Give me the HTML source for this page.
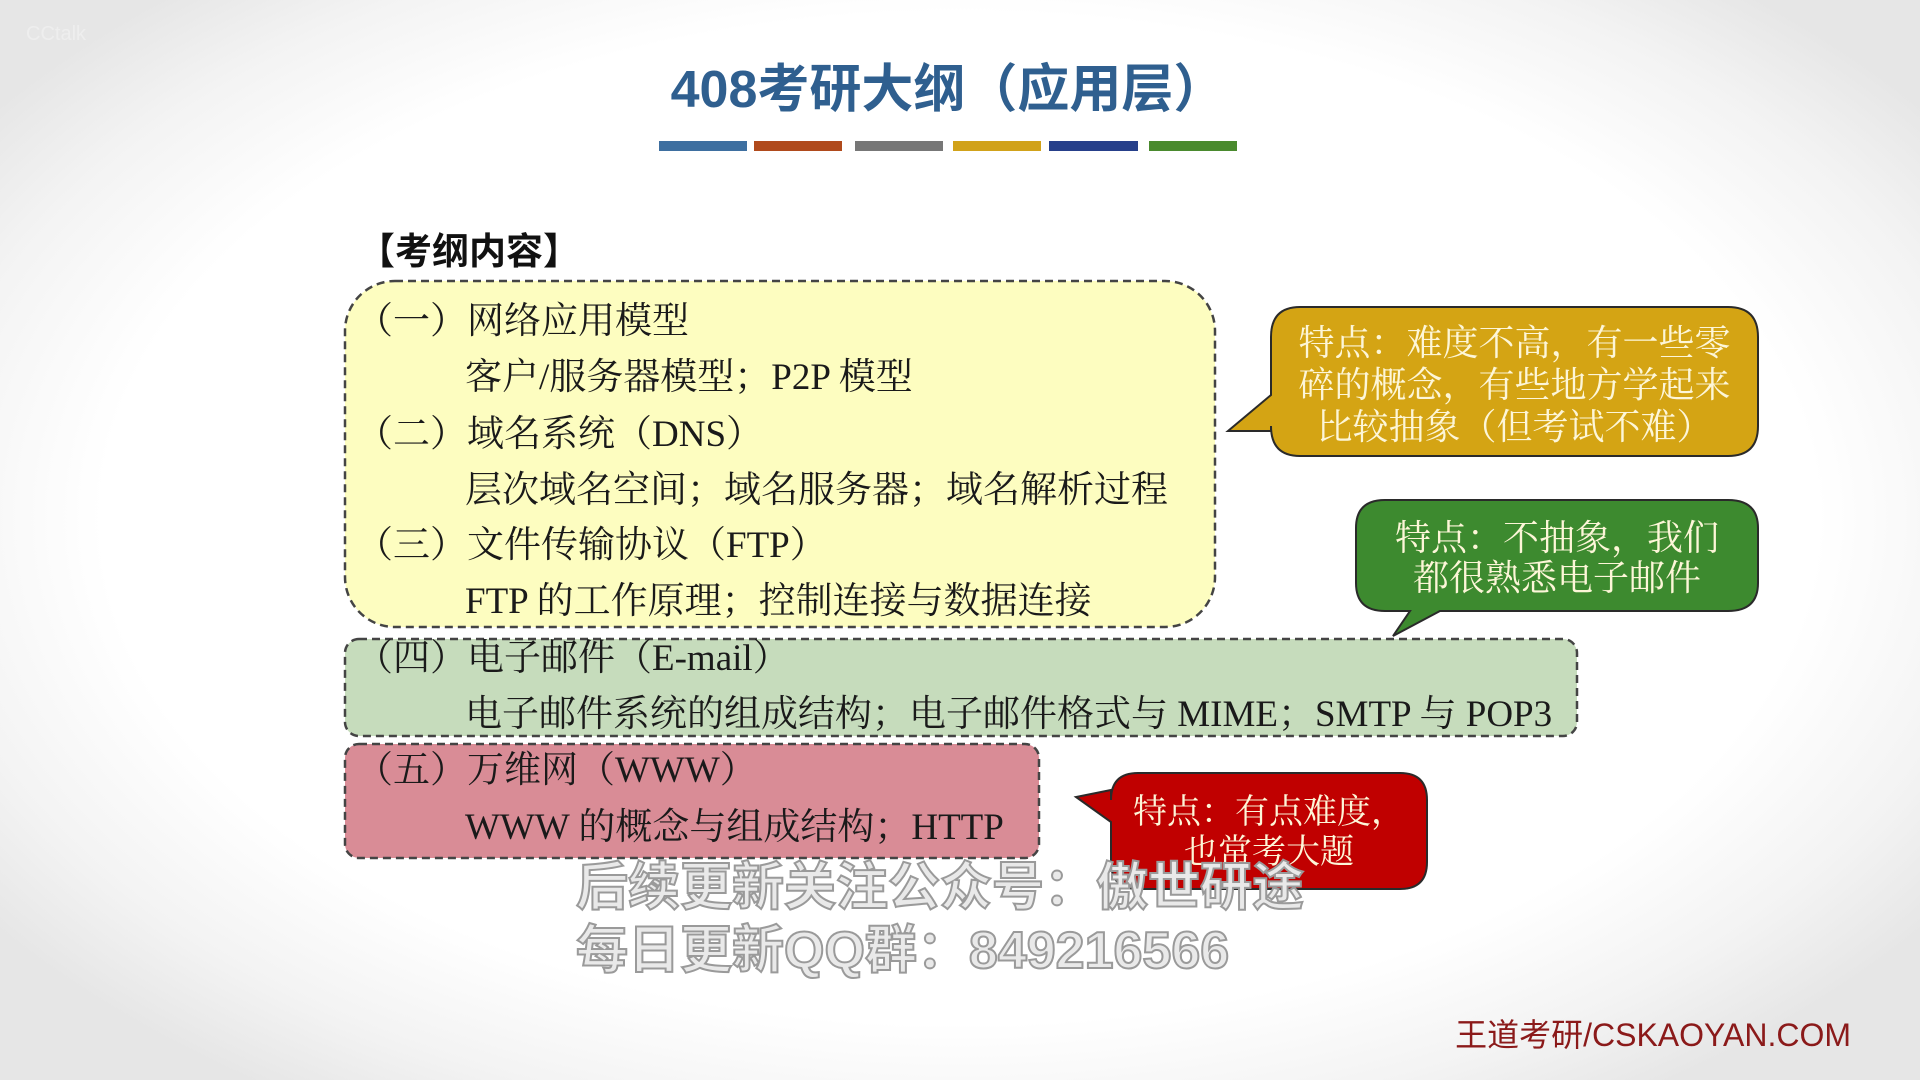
<!DOCTYPE html>
<html><head><meta charset="utf-8"><style>
html,body{margin:0;padding:0}
body{width:1920px;height:1080px;position:relative;overflow:hidden;background:radial-gradient(ellipse 62% 65% at 50% 48%,#ffffff 72%,#f3f3f3 88%,#e6e6e6 100%);font-family:"Liberation Serif","Noto Serif CJK SC",serif}
.a{position:absolute;white-space:nowrap;line-height:1}
.t{font-size:37px;color:#1a1a1a}
.c{color:#fdf6d8;text-align:center;font-family:"Liberation Serif","Noto Serif CJK SC",serif}
.w{font-family:"Liberation Sans","Noto Sans CJK SC",sans-serif;font-weight:bold;font-size:52px;color:#e9e9e9;-webkit-text-stroke:2px #9a9a9a}
</style></head><body>
<div class="a" style="left:0;width:1896px;top:64px;text-align:center;font-size:52px;font-weight:bold;color:#2f5f8f;font-family:'Liberation Sans','Noto Sans CJK SC',sans-serif">408考研大纲（应用层）</div>
<div class="a" style="left:659px;top:141px;width:88px;height:10px;background:#3e6fa0"></div>
<div class="a" style="left:754px;top:141px;width:88px;height:10px;background:#b04a1c"></div>
<div class="a" style="left:855px;top:141px;width:88px;height:10px;background:#777"></div>
<div class="a" style="left:953px;top:141px;width:88px;height:10px;background:#d1a21a"></div>
<div class="a" style="left:1049px;top:141px;width:89px;height:10px;background:#263f8a"></div>
<div class="a" style="left:1149px;top:141px;width:88px;height:10px;background:#4a8a2e"></div>
<svg class="a" style="left:0;top:0" width="1920" height="1080">
<rect x="345" y="281" width="870" height="346" rx="50" fill="#fdfdc0" stroke="#444" stroke-width="2.5" stroke-dasharray="8,5"/>
<rect x="345" y="639" width="1232" height="97" rx="14" fill="#c6dcbc" stroke="#444" stroke-width="2.5" stroke-dasharray="8,5"/>
<rect x="345" y="744" width="694" height="114" rx="14" fill="#d98c96" stroke="#444" stroke-width="2.5" stroke-dasharray="8,5"/>
<path d="M1300,307 H1728 Q1758,307 1758,337 V426 Q1758,456 1728,456 H1300 Q1271,456 1271,426 V431 H1228 L1271,395 V337 Q1271,307 1300,307 Z" fill="#d4a414" stroke="#2a2a2a" stroke-width="2"/>
<path d="M1385,500 H1728 Q1758,500 1758,528 V583 Q1758,611 1728,611 H1440 L1393,636 L1410,611 H1385 Q1356,611 1356,583 V528 Q1356,500 1385,500 Z" fill="#3d8a2f" stroke="#2a2a2a" stroke-width="2"/>
<path d="M1138,773 H1400 Q1427,773 1427,800 V862 Q1427,889 1400,889 H1138 Q1111,889 1111,862 V822 L1076,797 L1111,790 V800 Q1111,773 1138,773 Z" fill="#c00000" stroke="#2a2a2a" stroke-width="2"/>
</svg>
<div class="a" style="left:358px;top:233px;font-size:37px;font-weight:bold;font-family:'Liberation Sans','Noto Sans CJK SC',sans-serif;color:#111">【考纲内容】</div>
<div class="a t" style="left:356px;top:303px">（一）网络应用模型</div>
<div class="a t" style="left:465px;top:359px">客户/服务器模型；P2P 模型</div>
<div class="a t" style="left:356px;top:416px">（二）域名系统（DNS）</div>
<div class="a t" style="left:465px;top:472px">层次域名空间；域名服务器；域名解析过程</div>
<div class="a t" style="left:356px;top:527px">（三）文件传输协议（FTP）</div>
<div class="a t" style="left:465px;top:583px">FTP 的工作原理；控制连接与数据连接</div>
<div class="a t" style="left:356px;top:640px">（四）电子邮件（E-mail）</div>
<div class="a t" style="left:465px;top:696px">电子邮件系统的组成结构；电子邮件格式与 MIME；SMTP 与 POP3</div>
<div class="a t" style="left:356px;top:752px">（五）万维网（WWW）</div>
<div class="a t" style="left:465px;top:809px">WWW 的概念与组成结构；HTTP</div>
<div class="a c" style="left:1271px;width:487px;top:322px;line-height:42px;font-size:36px">特点：难度不高，有一些零<br>碎的概念，有些地方学起来<br>比较抽象（但考试不难）</div>
<div class="a c" style="left:1356px;width:402px;top:518px;line-height:40px;font-size:36px">特点：不抽象，我们<br>都很熟悉电子邮件</div>
<div class="a c" style="left:1111px;width:316px;top:793px;line-height:40px;font-size:34px">特点：有点难度，<br>也常考大题</div>
<div class="a w" style="left:576px;top:862px">后续更新关注公众号：傲世研途</div>
<div class="a w" style="left:576px;top:925px">每日更新QQ群：849216566</div>
<div class="a" style="right:69px;top:1019px;font-size:32px;color:#8b1a1a;font-family:'Liberation Sans','Noto Sans CJK SC',sans-serif">王道考研/CSKAOYAN.COM</div>
<div class="a" style="left:26px;top:24px;font-size:20px;color:#eee;font-family:'Liberation Sans',sans-serif">CCtalk</div>
</body></html>
